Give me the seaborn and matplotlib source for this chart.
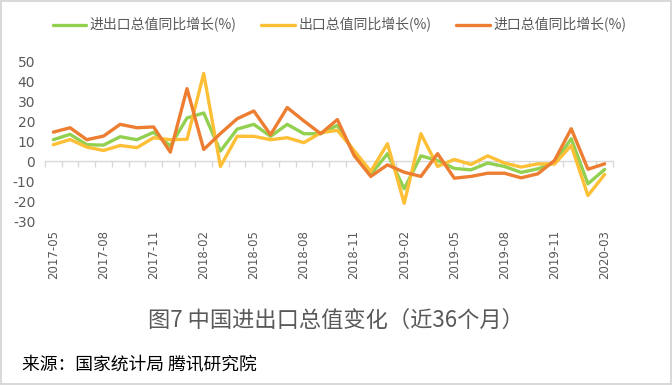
import numpy as np
import pandas as pd
import matplotlib
matplotlib.use("Agg")
import matplotlib.pyplot as plt
import seaborn as sns

# ---------------- data ----------------
months = ["2017-05", "2017-06", "2017-07", "2017-08", "2017-09", "2017-10", "2017-11", "2017-12",
          "2018-01", "2018-02", "2018-03", "2018-04", "2018-05", "2018-06", "2018-07", "2018-08",
          "2018-09", "2018-10", "2018-11", "2018-12", "2019-01", "2019-02", "2019-03", "2019-04",
          "2019-05", "2019-06", "2019-07", "2019-08", "2019-09", "2019-10", "2019-11", "2019-12",
          "2020-02", "2020-03"]

total_growth = [10.9, 13.6, 8.4, 8.2, 12.4, 10.9, 14.6, 7.8,
                21.8, 24.3, 5.2, 16.2, 18.6, 12.6, 18.6, 13.9,
                13.9, 18.1, 4.7, -6.5, 3.9, -13.7, 2.8, 0.5,
                -3.5, -4.2, -0.8, -2.5, -5.5, -3.7, -0.6, 11.4,
                -11.2, -4.0]

export_growth = [8.4, 11.0, 7.2, 5.5, 8.0, 6.9, 11.9, 10.9,
                 11.1, 44.1, -2.5, 12.6, 12.6, 10.9, 11.9, 9.4,
                 14.4, 15.6, 5.5, -5.0, 8.9, -21.0, 13.9, -2.5,
                 1.0, -1.5, 2.8, -0.8, -2.8, -1.2, -1.3, 8.0,
                 -17.1, -6.5]

import_growth = [14.7, 16.9, 10.9, 12.7, 18.6, 16.9, 17.3, 4.7,
                 36.5, 6.0, 14.0, 21.4, 25.3, 13.4, 27.0, 20.3,
                 13.9, 21.0, 3.0, -7.5, -1.7, -5.4, -7.5, 3.9,
                 -8.4, -7.5, -5.9, -5.9, -8.2, -6.2, 0.5, 16.4,
                 -3.9, -1.2]

series_names = ["进出口总值同比增长(%)", "出口总值同比增长(%)", "进口总值同比增长(%)"]
series_colors = ["#92D050", "#FDBF36", "#ED7D31"]
yticks = [-30, -20, -10, 0, 10, 20, 30, 40, 50]
xtick_labels = months[::3]

title_text = "图7 中国进出口总值变化（近36个月）"
source_text = "来源：国家统计局 腾讯研究院"

# ---------------- build frame ----------------
df = pd.concat([
    pd.DataFrame({"month": months, "value": vals, "series": name})
    for name, vals in zip(series_names, [total_growth, export_growth, import_growth])
], ignore_index=True)

sns.set_style("white")
plt.rcParams["font.family"] = ["Noto Sans CJK SC", "DejaVu Sans"]

fig = plt.figure(figsize=(6.72, 3.85), dpi=100, edgecolor="#D9D9D9", linewidth=1.5)
ax = fig.add_axes([0.067, 0.4252, 0.8452, 0.4145])

sns.lineplot(data=df, x="month", y="value", hue="series", hue_order=series_names,
             palette=dict(zip(series_names, series_colors)), sort=False,
             linewidth=2.4, ax=ax, legend=False)

n = len(months)
ax.set_xlim(-0.5, n - 0.5)
ax.set_ylim(-30, 50)
for s in ax.spines.values():
    s.set_visible(False)

ax.set_yticks(yticks)
ax.set_yticklabels([str(v) for v in yticks])
ax.tick_params(axis="y", length=0, pad=7, labelsize=10, labelcolor="#595959")

pos = list(range(0, n, 3))
ax.set_xticks(pos)
ax.set_xticklabels(xtick_labels, rotation=90)
ax.tick_params(axis="x", length=0, pad=6, labelsize=8.5, labelcolor="#595959")
for lab in ax.get_xticklabels() + ax.get_yticklabels():
    lab.set_fontfamily("DejaVu Sans")
ax.set_xlabel("")
ax.set_ylabel("")

# zero axis with category boundary tick marks
sec = ax.secondary_xaxis(0, transform=ax.transData)
sec.set_xticks(np.arange(-0.5, n, 1.0))
sec.set_xticklabels([])
sec.tick_params(axis="x", length=4, width=1, color="#D9D9D9", direction="out")
sec.spines["bottom"].set_color("#D9D9D9")
sec.spines["bottom"].set_linewidth(1)
ax.set_zorder(2)
ax.patch.set_alpha(0)

# legend
handles = [plt.Line2D([], [], color=c, linewidth=2.4) for c in series_colors]
fig.legend(handles, series_names, loc="center", bbox_to_anchor=(0.505, 0.935), ncol=3,
           frameon=False, handlelength=2.4, handletextpad=0.25, columnspacing=1.8,
           prop={"size": 10}, labelcolor="#595959")

fig.text(0.5, 1 - 320 / 385, title_text, ha="center", va="center", fontsize=16, color="#595959")
fig.text(22 / 672, 1 - 365 / 385, source_text, ha="left", va="center", fontsize=12.8, color="#000000")

fig.savefig("out.png", dpi=100, edgecolor=fig.get_edgecolor())
